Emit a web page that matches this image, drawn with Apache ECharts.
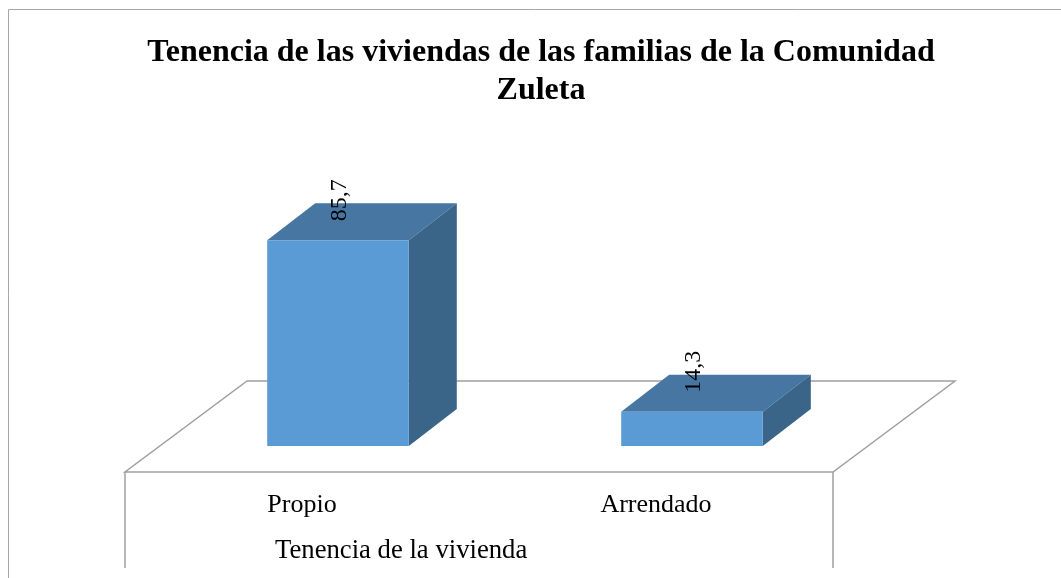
<!DOCTYPE html>
<html>
<head>
<meta charset="utf-8">
<script src="https://cdn.jsdelivr.net/npm/echarts@6/dist/echarts.min.js"></script>
<style>
  html, body { margin: 0; padding: 0; background: #fff; }
  #main { width: 1061px; height: 578px; }
</style>
</head>
<body>
<div id="main"></div>
<script>
// tenencia de la vivienda (%)
var categories = ['Propio', 'Arrendado'];
var values = [85.7, 14.3];

var serif = '"Liberation Serif", "DejaVu Serif", serif';

// pseudo 3D look, pixels
var shiftX = 36, shiftY = -26;   // floor front edge -> bar front face
var depthX = 48, depthY = -37;   // bar depth
var floorX = 122, floorY = -91;  // floor depth

var chart = echarts.init(document.getElementById('main'));

function renderFloor(params, api) {
    var cs = params.coordSys;
    var x0 = cs.x, x1 = cs.x + cs.width, y0 = cs.y + cs.height;
    var line = { stroke: '#a0a0a0', lineWidth: 1.5, fill: null };
    return {
        type: 'group',
        children: [
            { type: 'polygon', shape: { points: [[x0, y0], [x1, y0], [x1 + floorX, y0 + floorY], [x0 + floorX, y0 + floorY]] }, style: line },
            { type: 'line', shape: { x1: x0, y1: y0, x2: x0, y2: y0 + 96 }, style: line },
            { type: 'line', shape: { x1: x1, y1: y0, x2: x1, y2: y0 + 96 }, style: line }
        ]
    };
}

function renderBar(params, api) {
    var idx = api.value(0);
    var val = api.value(1);
    var top = api.coord([idx, val]);
    var base = api.coord([idx, 0]);
    var bw = api.size([1, 0])[0] * 0.4;
    var cx = top[0] + shiftX;
    var yT = top[1] + shiftY, yB = base[1] + shiftY;
    var xL = cx - bw / 2, xR = cx + bw / 2;
    return {
        type: 'group',
        children: [
            { type: 'polygon', shape: { points: [[xL, yT], [xR, yT], [xR + depthX, yT + depthY], [xL + depthX, yT + depthY]] }, style: { fill: '#4676a1' } },
            { type: 'polygon', shape: { points: [[xR, yT], [xR + depthX, yT + depthY], [xR + depthX, yB + depthY], [xR, yB]] }, style: { fill: '#3a6589' } },
            { type: 'rect', shape: { x: xL, y: yT, width: bw, height: yB - yT }, style: { fill: '#5b9bd5' } },
            {
                type: 'text', x: cx + 2, y: yT - 40, rotation: Math.PI / 2,
                style: { text: String(val).replace('.', ','), fill: '#000', font: '24px ' + serif, align: 'center', verticalAlign: 'middle' }
            }
        ]
    };
}

var option = {
    animation: false,
    title: {
        text: 'Tenencia de las viviendas de las familias de la Comunidad\nZuleta',
        left: 536, top: 29, textAlign: 'center',
        textStyle: { fontFamily: serif, fontSize: 32, fontWeight: 'bold', color: '#000', lineHeight: 38 }
    },
    grid: { left: 125, right: 228, top: 232, bottom: 106 },
    xAxis: {
        type: 'category',
        data: categories,
        axisLine: { show: false },
        axisTick: { show: false },
        axisLabel: { fontFamily: serif, fontSize: 26, color: '#000', margin: 20 }
    },
    yAxis: { type: 'value', min: 0, max: 100, show: false },
    graphic: [
        { type: 'rect', shape: { x: 8.5, y: 9.5, width: 1100, height: 700 }, style: { fill: null, stroke: '#a6a6a6', lineWidth: 1 }, silent: true },
        { type: 'text', left: 275, top: 537, style: { text: 'Tenencia de la vivienda', font: '26.7px ' + serif, fill: '#000' } }
    ],
    series: [
        { type: 'custom', renderItem: renderFloor, data: [[0, 0]], z: 1, silent: true },
        { type: 'custom', renderItem: renderBar, data: values.map(function (v, i) { return [i, v]; }), z: 2 }
    ]
};
chart.setOption(option);
</script>
</body>
</html>
